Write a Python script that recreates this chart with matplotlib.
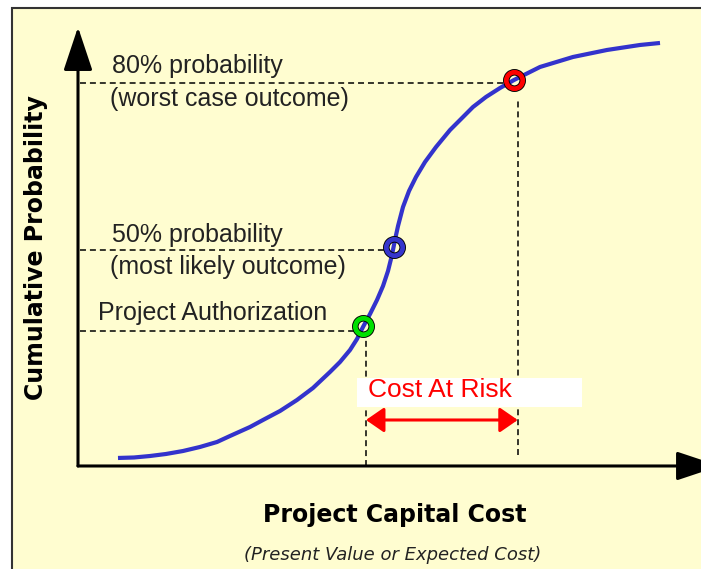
import numpy as np
import matplotlib
matplotlib.use("Agg")
import matplotlib.pyplot as plt
from matplotlib.patches import Rectangle

# S-curve: project capital cost (arbitrary units) vs cumulative probability (%)
cost = [6.43, 9.00, 11.58, 14.15, 16.88, 19.61, 22.35, 24.44, 27.65, 29.74,
        32.48, 35.21, 37.78, 40.51, 42.12, 43.73, 44.86, 45.82, 46.95, 48.07,
        49.04, 49.84, 50.32, 50.64, 50.96, 51.45, 52.25, 53.22, 54.34, 55.79,
        57.56, 59.81, 61.74, 63.50, 65.59, 67.85, 70.10, 74.28, 79.58, 85.05,
        90.35, 93.57]
prob = [1.83, 1.94, 2.28, 2.74, 3.42, 4.34, 5.48, 6.85, 8.90, 10.50,
        12.56, 15.07, 17.81, 21.46, 23.74, 26.48, 29.00, 31.74, 34.70, 37.90,
        41.10, 44.52, 47.26, 49.32, 51.60, 54.79, 59.13, 62.79, 65.98, 69.41,
        72.83, 76.71, 79.45, 81.96, 84.25, 86.30, 88.13, 91.10, 93.38, 94.98,
        96.12, 96.58]

# highlighted points: authorization, 50%, 80%
pt_cost = [45.8, 50.8, 70.1]
pt_prob = [32.0, 50.0, 88.1]
pt_colors = ["#00E000", "#3535CC", "#FF0000"]

# dashed guide lines
guide_prob = [30.8, 49.3, 87.4]
guide_prob_end = [44.5, 49.4, 68.6]
guide_cost = [46.3, 70.7]
guide_cost_top = [29.5, 84.0]
guide_cost_bottom = [0.0, 2.5]

labels = [("80% probability", 5.47, 89.7),
          ("(worst case outcome)", 5.14, 82.2),
          ("50% probability", 5.47, 51.1),
          ("(most likely outcome)", 5.14, 43.8),
          ("Project Authorization", 3.2, 33.3)]

cream = "#FFFDD0"
fig = plt.figure(figsize=(7.01, 5.69), dpi=100, facecolor="white")
bg = Rectangle((12 / 701, -0.1), 1.0, 561 / 569 + 0.1, transform=fig.transFigure,
               facecolor=cream, edgecolor="#333333", lw=1.5, zorder=-5)
fig.add_artist(bg)

ax = fig.add_axes([0, 0, 1, 1])
ax.set_facecolor("none")
ax.set_xlim(-12.54, 100.16)
ax.set_ylim(-23.52, 106.39)
ax.axis("off")

# axes with arrow heads
arrow_kw = dict(arrowstyle="-|>,head_length=1.35,head_width=0.45", color="black",
                lw=2.2, mutation_scale=20, shrinkA=0, shrinkB=0)
ax.annotate("", xy=(0, 100.2), xytext=(0, 0), arrowprops=arrow_kw, annotation_clip=False)
ax.annotate("", xy=(103.2, 0), xytext=(0, 0), arrowprops=arrow_kw, annotation_clip=False)

# dashed guides
dash = (0, (3.9, 2.6))
for yv, xe in zip(guide_prob, guide_prob_end):
    ax.plot([0.3, xe], [yv, yv], color="black", lw=1.1, linestyle=dash, zorder=2)
for xv, yt, yb in zip(guide_cost, guide_cost_top, guide_cost_bottom):
    ax.plot([xv, xv], [yb, yt], color="black", lw=1.1, linestyle=dash, zorder=2)

# curve
ax.plot(cost, prob, color="#3333CC", lw=3, solid_capstyle="butt",
        solid_joinstyle="round", zorder=3)

# ring markers
for xc, yc, c in zip(pt_cost, pt_prob, pt_colors):
    ax.plot(xc, yc, marker="o", markersize=11.8, markerfacecolor="none",
            markeredgecolor="black", markeredgewidth=4.7, zorder=4)
    ax.plot(xc, yc, marker="o", markersize=11.8, markerfacecolor="none",
            markeredgecolor=c, markeredgewidth=3.4, zorder=5)

for txt, xt, yt in labels:
    ax.text(xt, yt, txt, fontsize=18, family="Liberation Sans", color="#222222",
            va="baseline", ha="left")

# cost at risk
ax.add_patch(Rectangle((44.9, 13.5), 36.1, 6.6, facecolor="white", edgecolor="none", zorder=2.5))
ax.text(46.6, 15.8, "Cost At Risk", fontsize=19, family="Liberation Sans", color="#FF0000",
        va="baseline", ha="left", zorder=3)
ax.annotate("", xy=(guide_cost[1], 10.5), xytext=(guide_cost[0], 10.5),
            arrowprops=dict(arrowstyle="<|-|>,head_length=0.55,head_width=0.38",
                            color="#FF0000", lw=2.2, mutation_scale=20,
                            shrinkA=0, shrinkB=0), zorder=3)

# axis titles
ax.text(-6.75, 49.8, "Cumulative Probability", rotation=90, fontsize=17,
        fontweight="bold", family="DejaVu Sans", ha="center", va="center")
ax.text(50.96, -12.8, "Project Capital Cost", fontsize=17, fontweight="bold",
        family="DejaVu Sans", ha="center", va="baseline")
ax.text(50.6, -21.5, "(Present Value or Expected Cost)", fontsize=13, style="italic",
        family="DejaVu Sans", ha="center", va="baseline", color="#222222")

fig.savefig("out.png", dpi=100, facecolor="white")
